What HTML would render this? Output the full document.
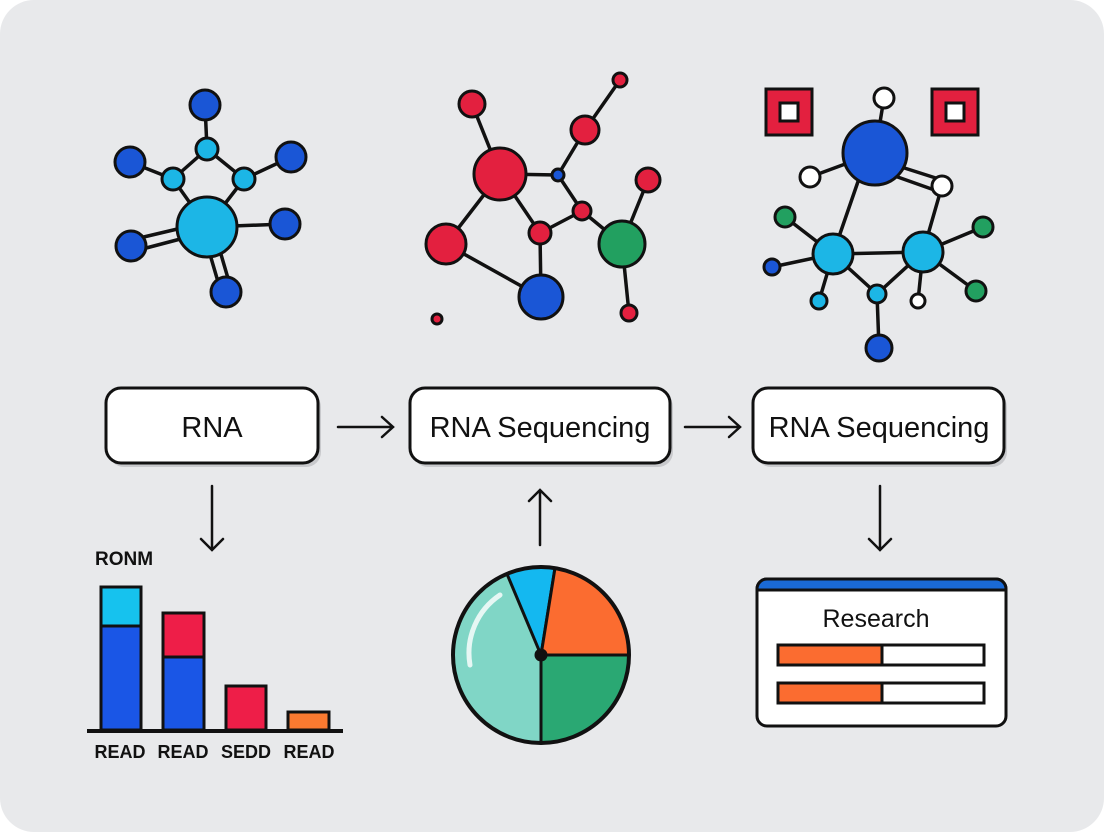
<!DOCTYPE html>
<html><head><meta charset="utf-8"><style>
html,body{margin:0;padding:0;background:#fff;}
svg{display:block;}
text{font-family:"Liberation Sans","DejaVu Sans",sans-serif;}
</style></head><body>
<svg width="1104" height="832" viewBox="0 0 1104 832" xmlns="http://www.w3.org/2000/svg">
<rect x="0" y="0" width="1104" height="832" rx="34" fill="#e8e9eb"/>
<g stroke="#111" stroke-width="3.5" fill="none" stroke-linecap="round">
<!-- left molecule bonds -->
<line x1="205" y1="105" x2="207" y2="149"/><line x1="207" y1="149" x2="173" y2="179"/><line x1="207" y1="149" x2="244" y2="179"/>
<line x1="173" y1="179" x2="130" y2="162"/><line x1="244" y1="179" x2="291" y2="157"/>
<line x1="173" y1="179" x2="207" y2="227"/><line x1="244" y1="179" x2="207" y2="227"/>
<line x1="207" y1="227" x2="285" y2="224"/>
<line x1="207" y1="222" x2="131" y2="240"/><line x1="207" y1="232" x2="131" y2="252"/>
<line x1="202" y1="227" x2="221" y2="292"/><line x1="213" y1="227" x2="232" y2="292"/>
<!-- middle -->
<line x1="472" y1="104" x2="500" y2="174"/><line x1="620" y1="80" x2="585" y2="130"/><line x1="585" y1="130" x2="558" y2="175"/>
<line x1="500" y1="174" x2="558" y2="175"/><line x1="558" y1="175" x2="582" y2="211"/><line x1="582" y1="211" x2="622" y2="244"/>
<line x1="582" y1="211" x2="540" y2="233"/><line x1="500" y1="174" x2="540" y2="233"/><line x1="500" y1="174" x2="446" y2="244"/>
<line x1="446" y1="244" x2="541" y2="297"/><line x1="540" y1="233" x2="541" y2="297"/><line x1="648" y1="180" x2="622" y2="244"/>
<line x1="622" y1="244" x2="629" y2="313"/>
<!-- right -->
<line x1="884" y1="98" x2="875" y2="153"/><line x1="810" y1="177" x2="875" y2="153"/>
<line x1="895" y1="165" x2="942" y2="180"/><line x1="892" y1="175" x2="940" y2="192"/>
<line x1="862" y1="170" x2="833" y2="254"/><line x1="942" y1="186" x2="923" y2="252"/>
<line x1="833" y1="254" x2="923" y2="252"/><line x1="785" y1="217" x2="833" y2="254"/><line x1="772" y1="267" x2="833" y2="254"/>
<line x1="819" y1="301" x2="833" y2="254"/><line x1="833" y1="254" x2="877" y2="294"/><line x1="923" y1="252" x2="877" y2="294"/>
<line x1="877" y1="294" x2="879" y2="348"/><line x1="923" y1="252" x2="983" y2="227"/><line x1="923" y1="252" x2="976" y2="291"/><line x1="923" y1="252" x2="918" y2="301"/>
</g>
<g stroke="#111" stroke-width="3">
<g fill="#1a56d6">
<circle cx="205" cy="105" r="15"/><circle cx="130" cy="162" r="15"/><circle cx="291" cy="157" r="15"/><circle cx="285" cy="224" r="15"/><circle cx="131" cy="246" r="15"/><circle cx="226" cy="292" r="15"/>
<circle cx="558" cy="175" r="6"/><circle cx="541" cy="297" r="22"/>
<circle cx="875" cy="153" r="32"/><circle cx="772" cy="267" r="8"/><circle cx="879" cy="348" r="13"/>
</g>
<g fill="#1cb6e6">
<circle cx="207" cy="149" r="11"/><circle cx="173" cy="179" r="11"/><circle cx="244" cy="179" r="11"/><circle cx="207" cy="227" r="30"/>
<circle cx="833" cy="254" r="20"/><circle cx="923" cy="252" r="20"/><circle cx="877" cy="294" r="9"/><circle cx="819" cy="301" r="8"/>
</g>
<g fill="#e3203f">
<circle cx="472" cy="104" r="13"/><circle cx="620" cy="80" r="7"/><circle cx="585" cy="130" r="14"/><circle cx="500" cy="174" r="26"/>
<circle cx="582" cy="211" r="9"/><circle cx="540" cy="233" r="11"/><circle cx="648" cy="180" r="12"/><circle cx="446" cy="244" r="20"/>
<circle cx="629" cy="313" r="8"/><circle cx="437" cy="319" r="5"/>
</g>
<g fill="#22a060">
<circle cx="622" cy="244" r="23"/><circle cx="785" cy="217" r="10"/><circle cx="983" cy="227" r="10"/><circle cx="976" cy="291" r="10"/>
</g>
<g fill="#fff">
<circle cx="884" cy="98" r="10"/><circle cx="810" cy="177" r="10"/><circle cx="942" cy="186" r="10"/><circle cx="918" cy="301" r="7"/>
</g>
<rect x="766" y="89" width="46" height="46" fill="#e3203f"/><rect x="780" y="103" width="18" height="18" fill="#fff"/>
<rect x="932" y="89" width="46" height="46" fill="#e3203f"/><rect x="946" y="103" width="18" height="18" fill="#fff"/>
</g>
<!-- boxes -->
<g>
<rect x="109" y="392" width="212" height="75" rx="15" fill="#c8c9cc"/>
<rect x="106" y="388" width="212" height="75" rx="15" fill="#fff" stroke="#111" stroke-width="3"/>
<rect x="413" y="392" width="260" height="75" rx="15" fill="#c8c9cc"/>
<rect x="410" y="388" width="260" height="75" rx="15" fill="#fff" stroke="#111" stroke-width="3"/>
<rect x="756" y="392" width="251" height="75" rx="15" fill="#c8c9cc"/>
<rect x="753" y="388" width="251" height="75" rx="15" fill="#fff" stroke="#111" stroke-width="3"/>
</g>
<g font-size="29" fill="#111" text-anchor="middle">
<text x="212" y="437">RNA</text>
<text x="540" y="437">RNA Sequencing</text>
<text x="879" y="437">RNA Sequencing</text>
</g>
<g stroke="#111" stroke-width="2.5" fill="none" stroke-linecap="round">
<path d="M338 427H393M382 417L393 427L382 437"/>
<path d="M685 427H740M729 417L740 427L729 437"/>
<path d="M212 486V550M201 539L212 550L223 539"/>
<path d="M540 545V490M529 501L540 490L551 501"/>
<path d="M880 486V550M869 539L880 550L891 539"/>
</g>
<!-- bar chart -->
<text x="95" y="565" font-size="19" font-weight="bold" fill="#111">RONM</text>
<g stroke="#111" stroke-width="3">
<rect x="101" y="587" width="40" height="143" fill="#1a56e6"/><rect x="101" y="587" width="40" height="39" fill="#16c2ee"/>
<rect x="163" y="613" width="41" height="117" fill="#1a56e6"/><rect x="163" y="613" width="41" height="44" fill="#ee1e48"/>
<rect x="226" y="686" width="40" height="44" fill="#ee1e48"/>
<rect x="288" y="712" width="41" height="18" fill="#fb7a30"/>
<line x1="87" y1="731" x2="343" y2="731" stroke-width="4"/>
</g>
<g font-size="18" font-weight="bold" fill="#111" text-anchor="middle">
<text x="120" y="758">READ</text><text x="183" y="758">READ</text><text x="246" y="758">SEDD</text><text x="309" y="758">READ</text>
</g>
<!-- pie -->
<g stroke="#111" stroke-width="3" stroke-linejoin="round">
<circle cx="541" cy="655" r="88" fill="#80d6c6"/>
<path d="M541 655L507 574A88 88 0 0 1 555 568Z" fill="#14b8f0"/>
<path d="M541 655L555 568A88 88 0 0 1 629 655Z" fill="#fb6c30"/>
<path d="M541 655L629 655A88 88 0 0 1 541 743Z" fill="#2aa873"/>
<circle cx="541" cy="655" r="88" fill="none" stroke-width="4"/>
<circle cx="541" cy="655" r="5" fill="#111"/>
</g>
<path d="M470 665A70 70 0 0 1 500 595" stroke="#fff" stroke-width="5" fill="none" opacity="0.8" stroke-linecap="round"/>
<!-- research panel -->
<rect x="757" y="579" width="249" height="147" rx="10" fill="#fff" stroke="#111" stroke-width="3"/>
<path d="M767 579H996A10 10 0 0 1 1006 589V590H757V589A10 10 0 0 1 767 579Z" fill="#1a6ad6" stroke="#111" stroke-width="3"/>
<text x="876" y="627" font-size="25" fill="#111" text-anchor="middle">Research</text>
<g stroke="#111" stroke-width="3">
<rect x="778" y="645" width="206" height="20" fill="#fff"/><rect x="778" y="645" width="104" height="20" fill="#fb6c30"/>
<rect x="778" y="683" width="206" height="20" fill="#fff"/><rect x="778" y="683" width="104" height="20" fill="#fb6c30"/>
</g>
</svg>
</body></html>
